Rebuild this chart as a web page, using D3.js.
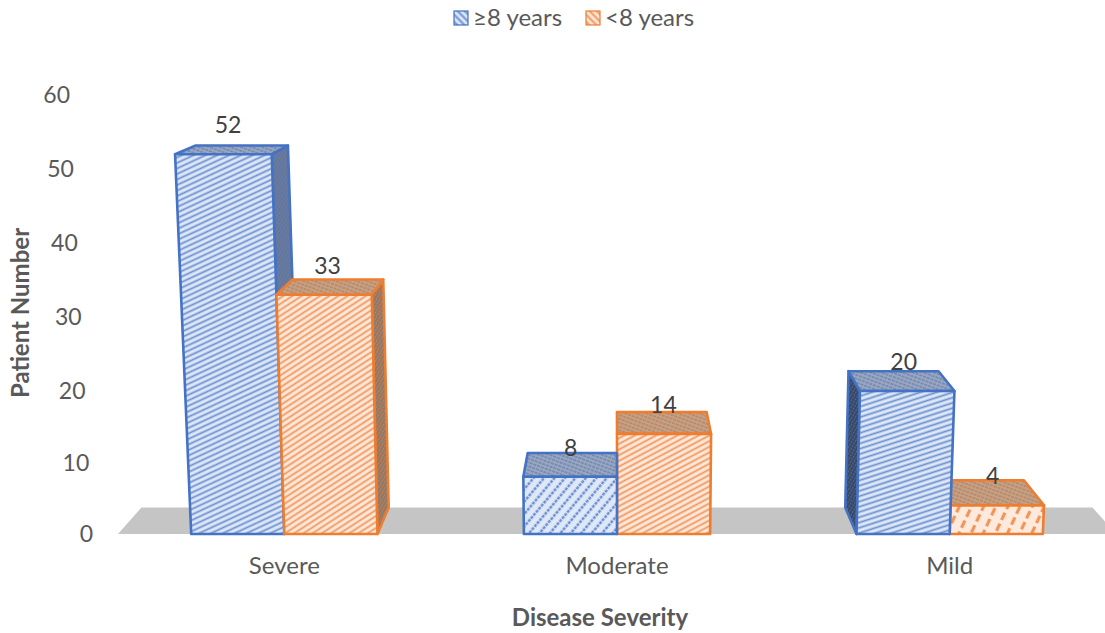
<!DOCTYPE html>
<html>
<head>
<meta charset="utf-8">
<script src="https://cdnjs.cloudflare.com/ajax/libs/d3/7.8.5/d3.min.js"></script>
<style>
  html, body { margin: 0; padding: 0; background: #fff; }
  text { font-family: Lato, "Open Sans", sans-serif; }
</style>
</head>
<body>
<div id="graph1"></div>
<script>
// data
const categories = ["Severe", "Moderate", "Mild"];
const series_names = ["≥8 years", "<8 years"];
const over_8_years = [52, 8, 20];
const under_8_years = [33, 14, 4];
const y_ticks = [0, 10, 20, 30, 40, 50, 60];

// stripe angle of the front face for each bar (the texture gets stretched with the bar)
const over_8_angles = [25, 50, 18];
const under_8_angles = [33, 28, 65];
const over_8_sides = ["#6d7a97", "#6d7a97", "#3d4960"];

const width = 1105, height = 633;

const svg = d3.select("#graph1").append("svg")
    .attr("width", width)
    .attr("height", height)
    .style("display", "block");
const defs = svg.append("defs");

// slightly stretched above 20, the perspective makes tall bars grow faster
const y = d3.scaleLinear().domain([0, 20, 60]).range([534, 391, 95]);
const x = d3.scaleBand().domain(categories).range([118, 1116]);
const x_inner = d3.scaleBand().domain(series_names).range([0, x.bandwidth()]).paddingOuter(0.786);

// perspective: verticals fan out upwards, depth runs to a vanishing point
const vanish = { x: 616, y: -30 };
const fan = 0.0001;
const depth = 0.047;

function project(x0, value, d) {
    const py = y(value);
    const px = x0 + (x0 - vanish.x) * fan * (y(0) - py);
    return [px + (vanish.x - px) * d, py + (vanish.y - py) * d];
}

function makePattern(id, base, stroke, angle, gap, thick, dash) {
    const p = defs.append("pattern")
        .attr("id", id)
        .attr("patternUnits", "userSpaceOnUse")
        .attr("width", 12)
        .attr("height", gap)
        .attr("patternTransform", `rotate(${-angle})`);
    p.append("rect").attr("width", 12).attr("height", gap).attr("fill", base);
    p.append("line")
        .attr("x1", 0).attr("x2", 12)
        .attr("y1", gap / 2).attr("y2", gap / 2)
        .attr("stroke", stroke)
        .attr("stroke-width", thick)
        .attr("stroke-dasharray", dash || null);
}

const blue = "#4472c4", orange = "#ed7d31";
const looks = [
    { stroke: blue, base: "#dfe8f6", line: "#6c90d2", top: "#9ba6bb", topLine: "#6583bb", angles: over_8_angles, sides: over_8_sides },
    { stroke: orange, base: "#fdeadd", line: "#f2955a", top: "#bfa28c", topLine: "#c4804e", angles: under_8_angles, sides: ["#8d7a6c", "#8d7a6c", "#8d7a6c"] }
];

// one record per bar, built from the arrays above
const values = [over_8_years, under_8_years];
const bars = [];
series_names.forEach(function (s, si) {
    categories.forEach(function (c, ci) {
        const x0 = x(c) + x_inner(s);
        bars.push({ category: c, series: s, value: values[si][ci], left: x0, right: x0 + x_inner.bandwidth(), si: si, ci: ci });
    });
});

bars.forEach(function (b) {
    const look = looks[b.si];
    const angle = look.angles[b.ci];
    if (b.value < 5) {
        makePattern(`front-${b.si}-${b.ci}`, look.base, look.line, angle, 11, 3.2, "8 4");
    } else if (b.value < 10) {
        makePattern(`front-${b.si}-${b.ci}`, look.base, look.line, angle, 8, 2.6, "3 1");
    } else {
        makePattern(`front-${b.si}-${b.ci}`, look.base, look.line, angle, 5, 1.8);
    }
    makePattern(`top-${b.si}-${b.ci}`, look.top, look.topLine, -20, 3.6, 1.2, "3 1");
    makePattern(`side-${b.si}-${b.ci}`, look.sides[b.ci], look.stroke, 60, 3, 0.8, "2 1");
});

// floor
const floor_left = x.range()[0], floor_right = x.range()[1];
svg.append("polygon")
    .attr("points", [
        project(floor_left, 0, 0),
        project(floor_left, 0, depth),
        project(floor_right, 0, depth),
        project(floor_right, 0, 0)
    ].join(" "))
    .attr("fill", "#c5c5c5");

// far bars first so the ones near the middle sit on top
const ordered = bars.slice().sort(function (a, b) {
    return Math.abs(b.left + b.right - 2 * vanish.x) - Math.abs(a.left + a.right - 2 * vanish.x);
});

function face(points, fill, stroke) {
    svg.append("polygon")
        .attr("points", points.join(" "))
        .attr("fill", fill)
        .attr("stroke", stroke)
        .attr("stroke-width", 2.6)
        .attr("stroke-linejoin", "round");
}

ordered.forEach(function (b) {
    const stroke = looks[b.si].stroke;
    const id = `${b.si}-${b.ci}`;
    // side face, only when it turns towards the viewer
    const edge = b.right < vanish.x - 1 ? b.right : (b.left > vanish.x + 1 ? b.left : null);
    if (edge !== null) {
        face([project(edge, b.value, 0), project(edge, b.value, depth), project(edge, 0, depth), project(edge, 0, 0)],
            `url(#side-${id})`, stroke);
    }
    face([project(b.left, b.value, 0), project(b.left, b.value, depth), project(b.right, b.value, depth), project(b.right, b.value, 0)],
        `url(#top-${id})`, stroke);
    face([project(b.left, 0, 0), project(b.left, b.value, 0), project(b.right, b.value, 0), project(b.right, 0, 0)],
        `url(#front-${id})`, stroke);
});

// value labels
svg.append("g").selectAll("text")
    .data(bars)
    .join("text")
    .attr("x", function (d) { return project((d.left + d.right) / 2, d.value, 0.012)[0]; })
    .attr("y", function (d) { return y(d.value) - 27; })
    .attr("text-anchor", "middle")
    .attr("dominant-baseline", "middle")
    .attr("font-size", 23)
    .attr("fill", "#404040")
    .text(function (d) { return d.value; });

// y axis, ticks lean with the perspective
const y_axis = svg.append("g").call(d3.axisLeft(y).tickValues(y_ticks).tickSize(0).tickPadding(0));
y_axis.select(".domain").remove();
y_axis.selectAll(".tick")
    .attr("transform", function (d) {
        const p = project(93, d, 0);
        return `translate(${p[0]},${p[1] + 1})`;
    });
y_axis.selectAll("text")
    .attr("font-family", null)
    .attr("font-size", 23)
    .attr("fill", "#595959");

// x axis
const x_axis = svg.append("g")
    .attr("transform", "translate(0,566)")
    .call(d3.axisBottom(x).tickSize(0).tickPadding(0));
x_axis.select(".domain").remove();
x_axis.selectAll("text")
    .attr("font-family", null)
    .attr("font-size", 24)
    .attr("fill", "#595959")
    .attr("dy", "0.35em")
    .attr("y", 0);

// axis titles
svg.append("text")
    .attr("x", 600)
    .attr("y", 618)
    .attr("dy", "0.35em")
    .attr("text-anchor", "middle")
    .attr("font-size", 24)
    .attr("font-weight", "bold")
    .attr("fill", "#595959")
    .text("Disease Severity");

svg.append("text")
    .attr("transform", "translate(21,313) rotate(-90)")
    .attr("dy", "0.35em")
    .attr("text-anchor", "middle")
    .attr("font-size", 24)
    .attr("font-weight", "bold")
    .attr("fill", "#595959")
    .text("Patient Number");

// legend
const legend_x = d3.scaleOrdinal().domain(series_names).range([454, 586]);
series_names.forEach(function (s, i) {
    makePattern(`legend-${i}`, looks[i].base, looks[i].line, 135, 5, 2);
});
const legend = svg.append("g").selectAll("g")
    .data(series_names)
    .join("g")
    .attr("transform", function (d) { return `translate(${legend_x(d)},11)`; });
legend.append("rect")
    .attr("width", 14)
    .attr("height", 14)
    .attr("fill", function (d, i) { return `url(#legend-${i})`; })
    .attr("stroke", function (d, i) { return looks[i].stroke; })
    .attr("stroke-width", 1.2);
legend.append("text")
    .attr("x", 19)
    .attr("y", 7)
    .attr("dy", "0.35em")
    .attr("font-size", 24)
    .attr("fill", "#595959")
    .text(function (d) { return d; });
</script>
</body>
</html>
